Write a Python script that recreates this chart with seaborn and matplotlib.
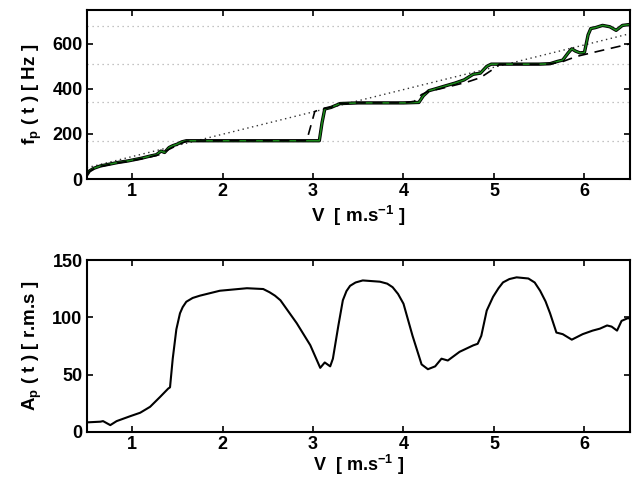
import matplotlib
matplotlib.use('Agg')
import matplotlib.pyplot as plt
import seaborn as sns
import pandas as pd

# top panel: peak frequency f_p(t)
v_fp = [0.5, 0.53, 0.58, 0.65, 0.75, 0.85, 0.95, 1.0, 1.1, 1.2, 1.27, 1.32, 1.36, 1.41, 1.45,
        1.5, 1.55, 1.6, 2.0, 2.5, 3.0, 3.07, 3.1, 3.13, 3.2, 3.3, 3.5, 4.0, 4.17, 4.22, 4.28,
        4.35, 4.45, 4.57, 4.67, 4.77, 4.85, 4.92, 4.97, 5.2, 5.5, 5.62, 5.7, 5.76, 5.82, 5.86,
        5.9, 5.95, 6.0, 6.04, 6.07, 6.12, 6.2, 6.28, 6.35, 6.42, 6.5]
f_p = [18, 36, 48, 58, 66, 74, 80, 84, 92, 102, 108, 124, 118, 140, 148,
       155, 165, 170, 170, 170, 170, 170, 250, 311, 318, 335, 338, 338, 340, 370, 392,
       400, 412, 426, 440, 465, 470, 500, 510, 510, 510, 512, 522, 528, 560, 578,
       568, 560, 562, 640, 668, 672, 682, 676, 660, 682, 686]

# dashed estimate
v_dash = [0.5, 0.53, 0.58, 0.65, 0.75, 0.85, 0.95, 1.0, 1.1, 1.2, 1.3, 1.4, 1.5, 1.6, 2.0,
          2.5, 2.93, 3.02, 3.1, 3.2, 3.3, 3.5, 4.0, 4.12, 4.2, 4.28, 4.4, 4.55, 4.7, 4.85,
          5.0, 5.06, 5.3, 5.6, 5.75, 5.85, 5.95, 6.5]
f_dash = [18, 34, 46, 56, 64, 72, 78, 82, 90, 98, 108, 130, 150, 168, 170,
          170, 170, 300, 312, 318, 335, 338, 338, 345, 375, 390, 400, 415, 430, 450,
          490, 510, 510, 510, 520, 535, 548, 600]

# dotted linear fit
v_fit = [0.5, 6.5]
f_fit = [50, 645]

# dotted horizontal levels
f_levels = [170, 340, 510, 680]

# bottom panel: amplitude A_p(t)
v_amp = [0.5, 0.65, 0.68, 0.76, 0.83, 0.98, 1.09, 1.2, 1.31, 1.4, 1.42, 1.45, 1.49, 1.53,
         1.56, 1.6, 1.67, 1.75, 1.97, 2.27, 2.45, 2.52, 2.58, 2.64, 2.82, 2.97, 3.08, 3.13,
         3.19, 3.22, 3.28, 3.33, 3.37, 3.41, 3.47, 3.55, 3.74, 3.82, 3.88, 3.94, 4.0, 4.1,
         4.2, 4.27, 4.35, 4.42, 4.49, 4.62, 4.77, 4.82, 4.86, 4.92, 4.99, 5.05, 5.1, 5.17,
         5.25, 5.38, 5.45, 5.51, 5.57, 5.62, 5.69, 5.76, 5.86, 5.98, 6.09, 6.17, 6.25, 6.3,
         6.36, 6.41, 6.48, 6.5]
a_p = [8.4, 9, 9.5, 6, 9.5, 13.8, 16.8, 22, 30.6, 37.9, 39, 64, 89.6, 103.6,
       109, 113.7, 117, 119, 123.3, 125.5, 124.8, 122, 119, 115, 95, 75.8, 56, 60.7,
       57.3, 64, 92.7, 115, 123, 127.6, 130.5, 132.3, 131.2, 129.5, 126.4, 120.5, 112, 84,
       59, 54.8, 57.3, 64, 62.4, 70, 75.6, 77, 84, 106, 118, 125.5, 130.6, 133.5,
       135, 134, 130.5, 123.3, 114, 103.6, 86.8, 85.4, 80.6, 85.4, 88.5, 90.2, 93, 92,
       88.5, 97, 99.4, 99]

sns.set_style('ticks')
plt.rcParams['font.family'] = ['Liberation Sans', 'DejaVu Sans']
plt.rcParams['font.weight'] = 'bold'
plt.rcParams['axes.labelweight'] = 'bold'
plt.rcParams['text.color'] = 'black'
plt.rcParams['axes.labelcolor'] = 'black'
plt.rcParams['xtick.color'] = 'black'
plt.rcParams['ytick.color'] = 'black'
plt.rcParams['axes.edgecolor'] = 'black'
plt.rcParams['mathtext.fontset'] = 'custom'
plt.rcParams['mathtext.rm'] = 'Liberation Sans:bold'
plt.rcParams['mathtext.it'] = 'Liberation Sans:bold'
plt.rcParams['mathtext.bf'] = 'Liberation Sans:bold'

fig = plt.figure(figsize=(6.38, 4.8), dpi=100)
ax1 = fig.add_axes([0.136, 0.627, 0.851, 0.352])
ax2 = fig.add_axes([0.136, 0.1, 0.851, 0.358])

for lv in f_levels:
    ax1.axhline(lv, color='#b0b0b0', lw=0.9, ls=(0, (1, 3)), zorder=0)

df_fp = pd.DataFrame({'v': v_fp, 'f': f_p})
df_dash = pd.DataFrame({'v': v_dash, 'f': f_dash})
df_fit = pd.DataFrame({'v': v_fit, 'f': f_fit})
sns.lineplot(data=df_fit, x='v', y='f', ax=ax1, color='#333333', lw=1.0, ls=(0, (1, 2.5)))
sns.lineplot(data=df_fp, x='v', y='f', ax=ax1, color='black', lw=2.4)
sns.lineplot(data=df_fp, x='v', y='f', ax=ax1, color='#1a8a1a', lw=1.1)
sns.lineplot(data=df_dash, x='v', y='f', ax=ax1, color='black', lw=1.2, ls=(0, (6, 4)))

df_amp = pd.DataFrame({'v': v_amp, 'a': a_p})
sns.lineplot(data=df_amp, x='v', y='a', ax=ax2, color='black', lw=1.5)

ax1.set_ylim(0, 750)
ax1.set_yticks([0, 200, 400, 600])
ax2.set_ylim(0, 150)
ax2.set_yticks([0, 50, 100, 150])
for ax in (ax1, ax2):
    ax.set_xlim(0.5, 6.5)
    ax.set_xticks([1, 2, 3, 4, 5, 6])
    ax.tick_params(direction='in', top=True, right=True, labelsize=13, length=4, width=1.2, pad=3)
    for s in ax.spines.values():
        s.set_linewidth(1.5)

ax1.set_xlabel(r'V  [ m.s$^{-1}$ ]', fontsize=13.5, labelpad=3)
ax2.set_xlabel(r'V  [ m.s$^{-1}$ ]', fontsize=13, labelpad=0)
ax1.set_ylabel(r'f$_p$ ( t ) [ Hz ]', fontsize=13.5, labelpad=6)
ax2.set_ylabel(r'A$_p$ ( t ) [ r.m.s ]', fontsize=13.5, labelpad=6)

fig.savefig('out.png', dpi=100)
